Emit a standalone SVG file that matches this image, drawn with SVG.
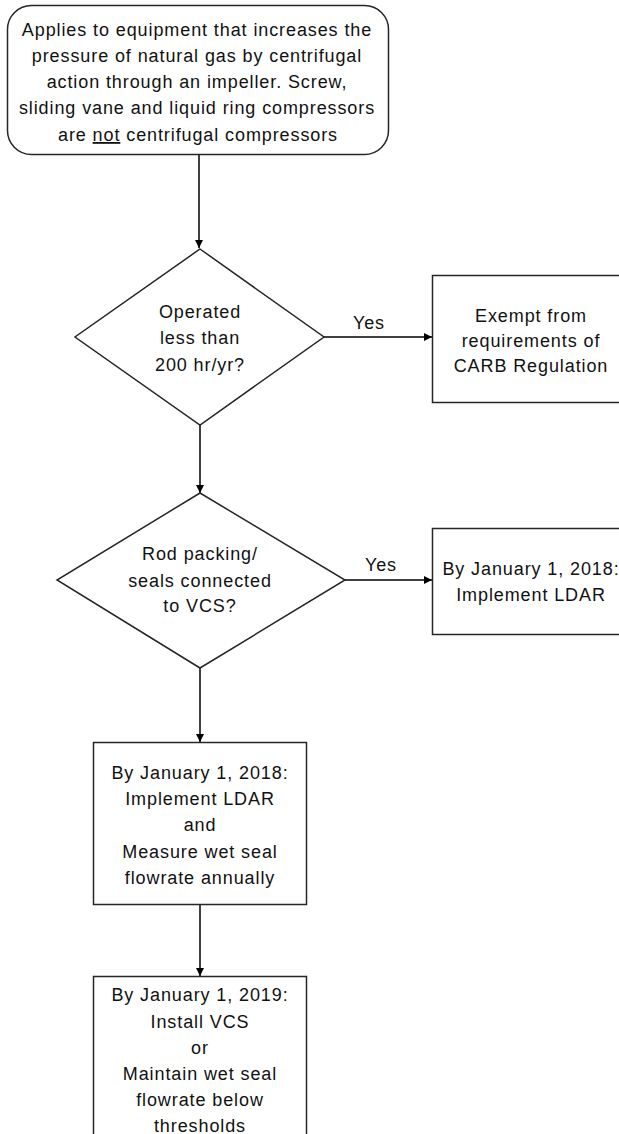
<svg xmlns="http://www.w3.org/2000/svg" width="619" height="1134" viewBox="0 0 619 1134">
  <style>
    .shape { fill: #ffffff; stroke: #262626; stroke-width: 1.5; }
    .edge { fill: none; stroke: #000000; stroke-width: 1.5; }
    text { font-family: "Liberation Sans", Arial, sans-serif; font-size: 18px; letter-spacing: 0.9px; fill: #111111; text-anchor: middle; }
  </style>
  <defs>
    <marker id="arrow" viewBox="0 0 10 10" refX="10" refY="5" markerWidth="8" markerHeight="8" markerUnits="userSpaceOnUse" orient="auto">
      <path d="M0,0 L10,5 L0,10 z" fill="#000000"/>
    </marker>
  </defs>
  <rect width="619" height="1134" fill="#ffffff"/>

  <!-- flow lines, with the two "Yes" branch labels -->
  <g id="connectors">
    <line class="edge" x1="199" y1="155" x2="199" y2="248" marker-end="url(#arrow)"/>
    <line class="edge" x1="324" y1="337" x2="432" y2="337" marker-end="url(#arrow)"/>
    <text x="369" y="329">Yes</text>
    <line class="edge" x1="200" y1="425" x2="200" y2="493" marker-end="url(#arrow)"/>
    <line class="edge" x1="345" y1="580" x2="432" y2="580" marker-end="url(#arrow)"/>
    <text x="381" y="571">Yes</text>
    <line class="edge" x1="200" y1="668" x2="200" y2="742" marker-end="url(#arrow)"/>
    <line class="edge" x1="200" y1="904" x2="200" y2="976" marker-end="url(#arrow)"/>
  </g>

  <g id="scope">
    <rect class="shape" x="7.5" y="5.5" width="381" height="149" rx="24" ry="24"/>
    <text x="197" y="36">Applies to equipment that increases the</text>
    <text x="197" y="62">pressure of natural gas by centrifugal</text>
    <text x="197" y="88">action through an impeller.  Screw,</text>
    <text x="197" y="114">sliding vane and liquid ring compressors</text>
    <text x="198" y="141">are <tspan text-decoration="underline">not</tspan> centrifugal compressors</text>
  </g>

  <g id="hours-check">
    <polygon class="shape" points="200,249 324,337 200,425 75,337"/>
    <text x="200" y="318">Operated</text>
    <text x="200" y="344">less than</text>
    <text x="200" y="371">200 hr/yr?</text>
  </g>

  <!-- right-hand outcome boxes run past the page edge -->
  <g id="exempt">
    <rect class="shape" x="432.5" y="275.5" width="198" height="127"/>
    <text x="531" y="322">Exempt from</text>
    <text x="531" y="347">requirements of</text>
    <text x="531" y="372">CARB Regulation</text>
  </g>

  <g id="vcs-check">
    <polygon class="shape" points="200,493 345,580 200,668 57,580"/>
    <text x="200" y="560">Rod packing/</text>
    <text x="200" y="587">seals connected</text>
    <text x="200" y="612">to VCS?</text>
  </g>

  <g id="ldar-only">
    <rect class="shape" x="432.5" y="528.5" width="198" height="106"/>
    <text x="531" y="575">By January 1, 2018:</text>
    <text x="531" y="601">Implement LDAR</text>
  </g>

  <g id="ldar-measure">
    <rect class="shape" x="93.5" y="742.5" width="213" height="162"/>
    <text x="200" y="779">By January 1, 2018:</text>
    <text x="200" y="805">Implement LDAR</text>
    <text x="200" y="831">and</text>
    <text x="200" y="858">Measure wet seal</text>
    <text x="200" y="884">flowrate annually</text>
  </g>

  <g id="vcs-or-threshold">
    <rect class="shape" x="93.5" y="976.5" width="213" height="170"/>
    <text x="200" y="1001">By January 1, 2019:</text>
    <text x="200" y="1028">Install VCS</text>
    <text x="200" y="1054">or</text>
    <text x="200" y="1080">Maintain wet seal</text>
    <text x="200" y="1106">flowrate below</text>
    <text x="200" y="1132">thresholds</text>
  </g>
</svg>
